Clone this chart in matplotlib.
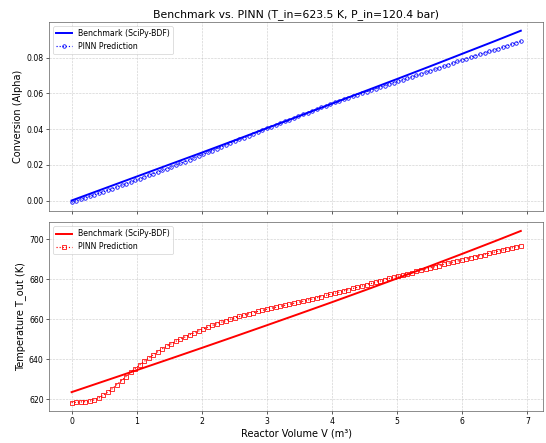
import matplotlib
matplotlib.use("Agg")
import matplotlib.pyplot as plt
import numpy as np

# reactor volume grid of the PINN evaluation (m^3)
V_pinn = np.linspace(0, 6.9, 100)

alpha_pinn = [
    -0.0010, -0.0002, 0.0007, 0.0015, 0.0023, 0.0032, 0.0040, 0.0049, 0.0058, 0.0066,
    0.0076, 0.0085, 0.0094, 0.0103, 0.0112, 0.0121, 0.0131, 0.0140, 0.0150, 0.0159,
    0.0169, 0.0178, 0.0188, 0.0198, 0.0208, 0.0218, 0.0228, 0.0238, 0.0248, 0.0258,
    0.0269, 0.0279, 0.0290, 0.0300, 0.0311, 0.0321, 0.0331, 0.0342, 0.0352, 0.0362,
    0.0373, 0.0383, 0.0393, 0.0404, 0.0414, 0.0423, 0.0433, 0.0443, 0.0453, 0.0463,
    0.0473, 0.0483, 0.0492, 0.0502, 0.0512, 0.0521, 0.0531, 0.0541, 0.0550, 0.0558,
    0.0567, 0.0575, 0.0584, 0.0592, 0.0600, 0.0609, 0.0617, 0.0625, 0.0634, 0.0642,
    0.0650, 0.0659, 0.0667, 0.0675, 0.0684, 0.0692, 0.0700, 0.0709, 0.0717, 0.0725,
    0.0734, 0.0743, 0.0751, 0.0760, 0.0769, 0.0778, 0.0786, 0.0794, 0.0802, 0.0810,
    0.0818, 0.0826, 0.0834, 0.0842, 0.0850, 0.0858, 0.0866, 0.0875, 0.0883, 0.0891,
]

T_pinn = [
    618.3, 618.4, 618.6, 618.7, 619.0, 619.6, 620.6, 622.0, 623.6, 625.3,
    627.3, 629.3, 631.3, 633.4, 635.3, 637.1, 638.9, 640.5, 642.2, 643.7,
    645.2, 646.5, 647.8, 649.0, 650.1, 651.1, 652.2, 653.2, 654.1, 655.1,
    656.0, 656.9, 657.8, 658.5, 659.3, 660.0, 660.7, 661.4, 662.1, 662.7,
    663.3, 663.9, 664.4, 665.0, 665.5, 666.0, 666.5, 667.0, 667.5, 668.0,
    668.5, 669.0, 669.6, 670.1, 670.7, 671.3, 671.9, 672.5, 673.0, 673.6,
    674.2, 674.8, 675.4, 676.0, 676.6, 677.3, 677.9, 678.5, 679.1, 679.8,
    680.4, 681.0, 681.6, 682.2, 682.8, 683.4, 684.0, 684.6, 685.2, 685.7,
    686.3, 686.9, 687.5, 688.0, 688.6, 689.1, 689.7, 690.2, 690.8, 691.3,
    691.9, 692.4, 693.0, 693.5, 694.1, 694.6, 695.2, 695.7, 696.3, 696.9,
]

# BDF reference solution
V_bench = [0.0, 0.5, 1.0, 1.5, 2.0, 2.5, 3.0, 3.5, 4.0, 4.5, 5.0, 5.5, 6.0, 6.5, 6.9]
alpha_bench = [0.0000, 0.0067, 0.0134, 0.0201, 0.0268, 0.0336, 0.0405, 0.0473,
               0.0542, 0.0611, 0.0680, 0.0750, 0.0821, 0.0892, 0.0950]
T_bench = [623.5, 629.0, 634.5, 640.05, 645.65, 651.3, 657.0, 662.75,
           668.55, 674.45, 680.45, 686.55, 692.75, 699.05, 704.2]

T_in = 623.5
P_in = 120.4

fig, (ax1, ax2) = plt.subplots(2, 1, figsize=(546 / 56, 443 / 56), dpi=56, sharex=True)
fig.subplots_adjust(left=0.09, right=0.995, top=0.95, bottom=0.072, hspace=0.061)

ax1.plot(V_bench, alpha_bench, color='b', linewidth=2.5, label='Benchmark (SciPy-BDF)')
ax1.plot(V_pinn, alpha_pinn, color='b', linestyle=':', marker='o', markersize=4.5,
         fillstyle='none', label='PINN Prediction')
ax1.set_ylabel('Conversion (Alpha)', fontsize=12.5)
ax1.set_title('Benchmark vs. PINN (T_in={} K, P_in={} bar)'.format(T_in, P_in), fontsize=14)
ax1.grid(True, linestyle='--', alpha=0.6)
ax1.legend(loc='upper left')

ax2.plot(V_bench, T_bench, color='r', linewidth=2.5, label='Benchmark (SciPy-BDF)')
ax2.plot(V_pinn, T_pinn, color='r', linestyle=':', marker='s', markersize=4.5,
         fillstyle='none', label='PINN Prediction')
ax2.set_ylabel('Temperature T_out (K)', fontsize=12.5)
ax2.set_xlabel('Reactor Volume V (m³)', fontsize=12.5)
ax2.grid(True, linestyle='--', alpha=0.6)
ax2.legend(loc='upper left')

for ax in (ax1, ax2):
    for sp in ax.spines.values():
        sp.set_color('0.3')

fig.savefig('out.png')
